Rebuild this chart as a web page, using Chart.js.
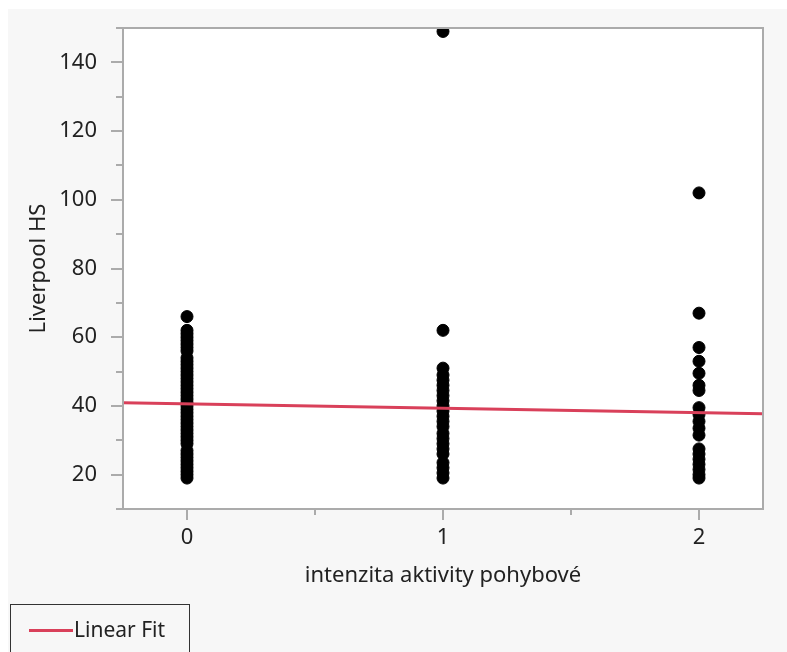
<!DOCTYPE html>
<html lang="cs">
<head>
    <meta charset="UTF-8">
    <title>Liverpool HS vs intenzita aktivity pohybové</title>
    <script src="https://cdn.jsdelivr.net/npm/chart.js"></script>
    <style>
        body { margin: 0; background: #fff; font-family: "Noto Sans", sans-serif; }
        #wrap {
            position: absolute; left: 8px; top: 9px;
            width: 779px; height: 643px; background: #f7f7f7; overflow: hidden;
        }
        #legend {
            position: absolute; left: 2px; top: 595px;
            width: 180px; height: 60px;
            border: 1.5px solid #333; box-sizing: border-box;
        }
        #legend .swatch {
            position: absolute; left: 18px; top: 24px;
            width: 44px; height: 3px; background: #d9405a;
        }
        #legend .label {
            position: absolute; left: 63px; top: 10px;
            font-size: 21px; color: #222; line-height: 28px;
        }
    </style>
</head>
<body>
<div id="wrap">
    <canvas id="chart" width="779" height="643"></canvas>
    <div id="legend"><span class="swatch"></span><span class="label">Linear Fit</span></div>
</div>
<script>
    // data
    const group0 = [19, 20, 21, 22, 23, 24, 25, 26, 27, 29, 30, 31, 32, 33, 34, 35, 36, 37, 38, 39,
                    40, 41, 42, 43, 44, 45, 46, 47, 48, 49, 50, 51, 52, 53, 54, 56, 57, 58, 59, 60, 61, 62, 66];
    const group1 = [149, 62, 51, 49, 47.5, 46, 44.5, 43, 41.5, 40, 38.5, 37, 35.5, 34, 32, 30.5, 29, 27.5, 26,
                    23.5, 22, 20.5, 19];
    const group2 = [102, 67, 57, 53, 49.5, 46, 44.5, 39.5, 37.5, 35.5, 33.5, 31.5, 27.5, 26, 24.5, 23, 21.5, 20, 19];
    const fitX = [-0.25, 2.25];
    const fitY = [40.9, 37.7];
    const xTicks = [0, 0.5, 1, 1.5, 2];
    const xTickLabels = [0, 1, 2];
    const yTickLabels = [20, 40, 60, 80, 100, 120, 140];

    const points = [];
    [group0, group1, group2].forEach((vals, i) => {
        vals.forEach(v => points.push({ x: i, y: v }));
    });
    const fitPoints = fitX.map((x, i) => ({ x: x, y: fitY[i] }));

    const FONT = '"Noto Sans", sans-serif';
    const AXIS = '#ababab';

    const framePlugin = {
        id: 'frame',
        beforeDatasetsDraw(chart) {
            const { ctx, chartArea: a } = chart;
            ctx.save();
            ctx.fillStyle = '#fff';
            ctx.fillRect(a.left, a.top, a.right - a.left, a.bottom - a.top);
            ctx.restore();
        },
        afterDraw(chart) {
            const { ctx, chartArea: a, scales } = chart;
            ctx.save();
            ctx.strokeStyle = AXIS;
            ctx.lineWidth = 2;
            ctx.strokeRect(a.left, a.top, a.right - a.left, a.bottom - a.top);
            ctx.beginPath();
            scales.x.ticks.forEach(t => {
                const px = Math.round(scales.x.getPixelForValue(t.value));
                const len = xTickLabels.includes(t.value) ? 11 : 6;
                ctx.moveTo(px, a.bottom);
                ctx.lineTo(px, a.bottom + len);
            });
            scales.y.ticks.forEach(t => {
                const py = Math.round(scales.y.getPixelForValue(t.value));
                const len = yTickLabels.includes(t.value) ? 12 : 7;
                ctx.moveTo(a.left, py);
                ctx.lineTo(a.left - len, py);
            });
            ctx.stroke();

            ctx.fillStyle = '#222';
            ctx.font = '22px ' + FONT;
            ctx.textAlign = 'center';
            ctx.textBaseline = 'middle';
            ctx.fillText('intenzita aktivity pohybové', (a.left + a.right) / 2, 567);
            ctx.translate(31, (a.top + a.bottom) / 2);
            ctx.rotate(-Math.PI / 2);
            ctx.fillText('Liverpool HS', 0, 0);
            ctx.restore();
        }
    };

    new Chart(document.getElementById('chart'), {
        type: 'scatter',
        data: {
            datasets: [
                {
                    type: 'line',
                    label: 'Linear Fit',
                    data: fitPoints,
                    borderColor: '#d9405a',
                    borderWidth: 3,
                    pointRadius: 0,
                    fill: false
                },
                {
                    label: 'Liverpool HS',
                    data: points,
                    backgroundColor: '#000',
                    borderColor: '#000',
                    pointRadius: 6,
                    pointHoverRadius: 6,
                    clip: 0
                }
            ]
        },
        options: {
            responsive: false,
            animation: false,
            layout: { padding: { top: 19, right: 24, left: 0, bottom: 0 } },
            plugins: { legend: { display: false }, tooltip: { enabled: false } },
            scales: {
                x: {
                    type: 'linear',
                    min: -0.25,
                    max: 2.25,
                    afterBuildTicks(s) { s.ticks = xTicks.map(v => ({ value: v })); },
                    afterFit(s) { s.height = 143; s.paddingLeft = 0; s.paddingRight = 0; },
                    grid: { display: true, drawOnChartArea: false, drawTicks: false },
                    border: { display: false },
                    ticks: {
                        padding: 16,
                        maxRotation: 0,
                        autoSkip: false,
                        color: '#222',
                        font: { family: FONT, size: 22 },
                        callback: v => xTickLabels.includes(v) ? String(v) : ''
                    }
                },
                y: {
                    min: 10,
                    max: 150,
                    afterFit(s) { s.width = 115; s.paddingTop = 0; s.paddingBottom = 0; },
                    grid: { display: true, drawOnChartArea: false, drawTicks: false },
                    border: { display: false },
                    ticks: {
                        stepSize: 10,
                        padding: 26,
                        autoSkip: false,
                        color: '#222',
                        font: { family: FONT, size: 22 },
                        callback: v => yTickLabels.includes(v) ? String(v) : ''
                    }
                }
            }
        },
        plugins: [framePlugin]
    });
</script>
</body>
</html>
